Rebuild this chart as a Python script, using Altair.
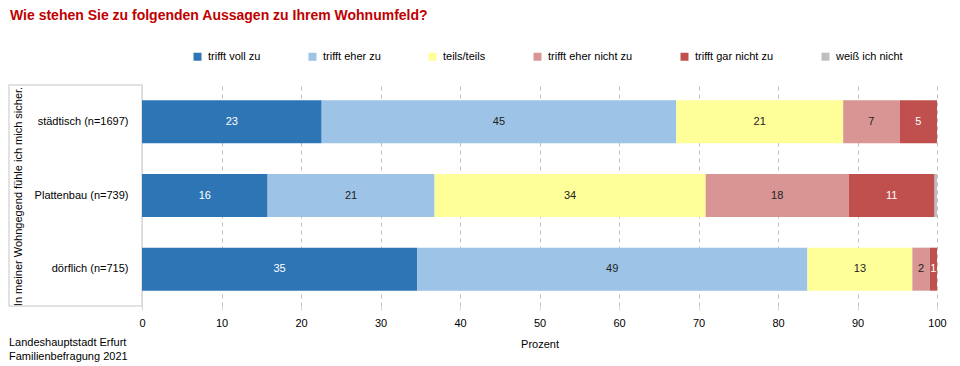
import altair as alt
import pandas as pd

FONT = "Liberation Sans, Arial, sans-serif"

gruppen = ["städtisch (n=1697)", "Plattenbau (n=739)", "dörflich (n=715)"]
kategorien = ["trifft voll zu", "trifft eher zu", "teils/teils",
              "trifft eher nicht zu", "trifft gar nicht zu", "weiß ich nicht"]
farben = ["#2E75B6", "#9DC3E6", "#FFFF99", "#D99594", "#C0504D", "#BFBFBF"]

staedtisch = [22.6, 44.6, 21.0, 7.1, 4.7, 0.0]
plattenbau = [15.8, 21.0, 34.1, 18.0, 10.8, 0.3]
doerflich = [34.6, 49.1, 13.2, 2.2, 0.9, 0.0]

titel = "Wie stehen Sie zu folgenden Aussagen zu Ihrem Wohnumfeld?"
quelle = "Landeshauptstadt Erfurt\nFamilienbefragung 2021"

werte = [staedtisch, plattenbau, doerflich]
rows = []
for g, vals in zip(gruppen, werte):
    for i, (k, v) in enumerate(zip(kategorien, vals)):
        rows.append({"Gruppe": g, "Kategorie": k, "Wert": v, "ord": i})
df = pd.DataFrame(rows)

W, H = 795, 221

base = alt.Chart(df).transform_stack(
    stack="Wert", groupby=["Gruppe"], as_=["x0", "x1"], sort=[alt.SortField("ord")]
).transform_calculate(mid="(datum.x0 + datum.x1) / 2")

yenc = alt.Y("Gruppe:N", sort=gruppen,
             scale=alt.Scale(paddingInner=0.42, paddingOuter=0.21),
             axis=alt.Axis(title="In meiner Wohngegend fühle ich mich sicher.",
                           titleFont=FONT, titleFontSize=11, titleFontWeight="normal",
                           titleColor="#000", titleAngle=-90, titleX=-121, titleY=111,
                           titleAlign="center", titleBaseline="alphabetic",
                           labelFont=FONT, labelFontSize=11, labelColor="#000",
                           labelPadding=14, ticks=False, domainColor="#d9d9d9",
                           grid=False))

bars = base.mark_bar(size=43).encode(
    x=alt.X("x0:Q", scale=alt.Scale(domain=[0, 100], nice=False),
            axis=alt.Axis(title="Prozent", values=list(range(0, 101, 10)),
                          titleFont=FONT, titleFontSize=11, titleFontWeight="normal",
                          titleColor="#000", titlePadding=10,
                          labelFont=FONT, labelFontSize=11, labelColor="#000",
                          labelPadding=7, labelFlush=False,
                          tickColor="#d9d9d9", tickSize=4,
                          domain=False, grid=True, gridColor="#bfbfbf",
                          gridDash=[4, 4])),
    x2="x1:Q",
    y=yenc,
    color=alt.Color("Kategorie:N", sort=kategorien,
                    scale=alt.Scale(domain=kategorien, range=farben),
                    legend=alt.Legend(title=None, orient="none", direction="horizontal",
                                      legendX=50, legendY=-34, symbolType="square",
                                      symbolSize=64, symbolStrokeWidth=0,
                                      labelFont=FONT, labelFontSize=11, labelColor="#000",
                                      labelOffset=5, columnPadding=46,
                                      columns=6, labelLimit=200)),
)

labels = base.transform_filter("datum.Wert >= 0.5").transform_calculate(
    lab="format(round(datum.Wert), 'd')"
).mark_text(font=FONT, fontSize=11).encode(
    x="mid:Q",
    y=alt.Y("Gruppe:N", sort=gruppen),
    text="lab:N",
    color=alt.condition(
        alt.FieldOneOfPredicate(field="Kategorie",
                                oneOf=["trifft voll zu", "trifft gar nicht zu"]),
        alt.value("white"), alt.value("#222222")),
)

box = alt.Chart(pd.DataFrame({"a": [1]})).mark_rect(
    fillOpacity=0, stroke="#d9d9d9", strokeWidth=1.5
).encode(x=alt.value(-133), x2=alt.value(0), y=alt.value(0), y2=alt.value(H))

footer = alt.Chart(pd.DataFrame({"t": [quelle]})).mark_text(
    font=FONT, fontSize=11, align="left", baseline="top", lineBreak="\n",
    lineHeight=14, color="#000"
).encode(text="t:N", x=alt.value(-133), y=alt.value(252))

title = alt.Chart(pd.DataFrame({"t": [titel]})).mark_text(
    font=FONT, fontSize=14, fontWeight="bold", align="left", baseline="alphabetic",
    color="#C00000"
).encode(text="t:N", x=alt.value(-132), y=alt.value(-65))

chart = alt.layer(box, bars, labels, footer, title).properties(
    width=W, height=H,
    autosize=alt.AutoSizeParams(type="none"),
    padding={"left": 134, "top": 77, "right": 15, "bottom": 60},
).configure_view(stroke=None)

chart.save("out.html", embed_options={"renderer": "svg", "actions": False})
